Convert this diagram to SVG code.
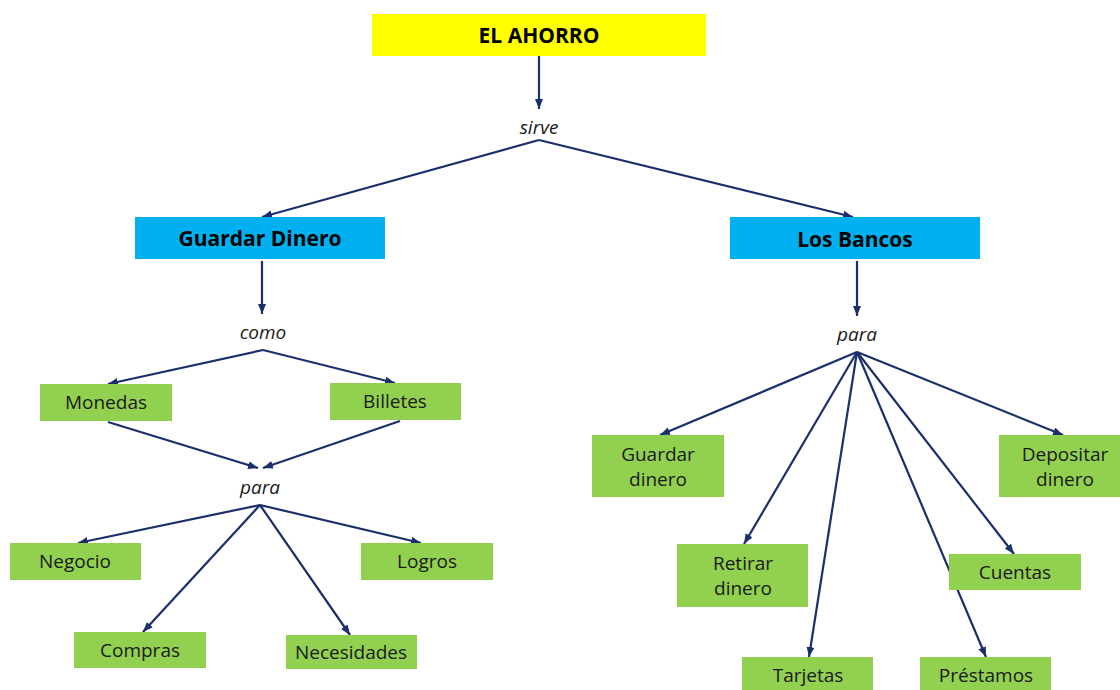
<svg xmlns="http://www.w3.org/2000/svg" width="1120" height="690" viewBox="0 0 1120 690">
<defs>
<marker id="arr" markerUnits="userSpaceOnUse" markerWidth="12" markerHeight="10" refX="10" refY="4" orient="auto">
<path d="M0,0 L10,4 L0,8 z" fill="#1A2F6B"/>
</marker>
<style>
.conn line{stroke:#1A2F6B;stroke-width:2.2;marker-end:url(#arr)}
.y{fill:#FFFF00}
.b{fill:#00B0F0}
.g{fill:#92D050}
.t{font-family:"Open Sans","Liberation Sans",sans-serif;font-weight:bold;font-size:21px;fill:#000;text-anchor:middle}
.n{font-family:"Open Sans","Liberation Sans",sans-serif;font-size:19px;fill:#1a1a1a;text-anchor:middle}
.i{font-family:"Open Sans","Liberation Sans",sans-serif;font-style:italic;font-size:19px;fill:#1a1a1a;text-anchor:middle}
</style>
</defs>
<rect width="1120" height="690" fill="#fff"/>
<g id="connectors" class="conn">
<line x1="539" y1="56" x2="539" y2="109"/>
<line x1="539" y1="140" x2="262" y2="217"/>
<line x1="539" y1="140" x2="853" y2="217"/>
<line x1="262" y1="261" x2="262" y2="314"/>
<line x1="263" y1="350" x2="108" y2="384"/>
<line x1="263" y1="350" x2="395" y2="383"/>
<line x1="108" y1="422" x2="258" y2="468"/>
<line x1="400" y1="421" x2="263" y2="468"/>
<line x1="260" y1="505" x2="78" y2="543"/>
<line x1="260" y1="505" x2="143" y2="632"/>
<line x1="260" y1="505" x2="350" y2="635"/>
<line x1="260" y1="505" x2="421" y2="543"/>
<line x1="857" y1="261" x2="857" y2="316"/>
<line x1="857" y1="352" x2="660" y2="435"/>
<line x1="857" y1="352" x2="744" y2="544"/>
<line x1="857" y1="352" x2="809" y2="657"/>
<line x1="857" y1="352" x2="986" y2="657"/>
<line x1="857" y1="352" x2="1014" y2="554"/>
<line x1="857" y1="352" x2="1063" y2="435"/>
</g>
<g id="ahorro"><rect class="y" x="372" y="14" width="334" height="42"/><text class="t" x="539" y="43">EL AHORRO</text></g>
<g id="sirve"><text class="i" x="539" y="134">sirve</text></g>
<g id="guardar-dinero"><rect class="b" x="135" y="217" width="250" height="42"/><text class="t" x="260" y="246">Guardar Dinero</text></g>
<g id="los-bancos"><rect class="b" x="730" y="217" width="250" height="42"/><text class="t" x="855" y="247">Los Bancos</text></g>
<g id="como"><text class="i" x="263" y="339">como</text></g>
<g id="monedas"><rect class="g" x="40" y="384" width="132" height="37"/><text class="n" x="106" y="409">Monedas</text></g>
<g id="billetes"><rect class="g" x="330" y="383" width="131" height="37"/><text class="n" x="395" y="408">Billetes</text></g>
<g id="para1"><text class="i" x="260" y="494">para</text></g>
<g id="negocio"><rect class="g" x="10" y="543" width="131" height="37"/><text class="n" x="75" y="568">Negocio</text></g>
<g id="logros"><rect class="g" x="361" y="543" width="132" height="37"/><text class="n" x="427" y="568">Logros</text></g>
<g id="compras"><rect class="g" x="74" y="632" width="132" height="36"/><text class="n" x="140" y="657">Compras</text></g>
<g id="necesidades"><rect class="g" x="286" y="635" width="131" height="34"/><text class="n" x="351" y="659">Necesidades</text></g>
<g id="para2"><text class="i" x="857" y="341">para</text></g>
<g id="guardar-dinero2"><rect class="g" x="592" y="435" width="132" height="62"/><text class="n" x="658" y="461">Guardar</text><text class="n" x="658" y="486">dinero</text></g>
<g id="depositar"><rect class="g" x="999" y="435" width="131" height="62"/><text class="n" x="1065" y="461">Depositar</text><text class="n" x="1065" y="486">dinero</text></g>
<g id="retirar"><rect class="g" x="677" y="544" width="131" height="63"/><text class="n" x="743" y="570">Retirar</text><text class="n" x="743" y="595">dinero</text></g>
<g id="cuentas"><rect class="g" x="949" y="554" width="132" height="36"/><text class="n" x="1015" y="579">Cuentas</text></g>
<g id="tarjetas"><rect class="g" x="742" y="657" width="131" height="40"/><text class="n" x="808" y="682">Tarjetas</text></g>
<g id="prestamos"><rect class="g" x="920" y="657" width="131" height="40"/><text class="n" x="986" y="682">Préstamos</text></g>
</svg>
